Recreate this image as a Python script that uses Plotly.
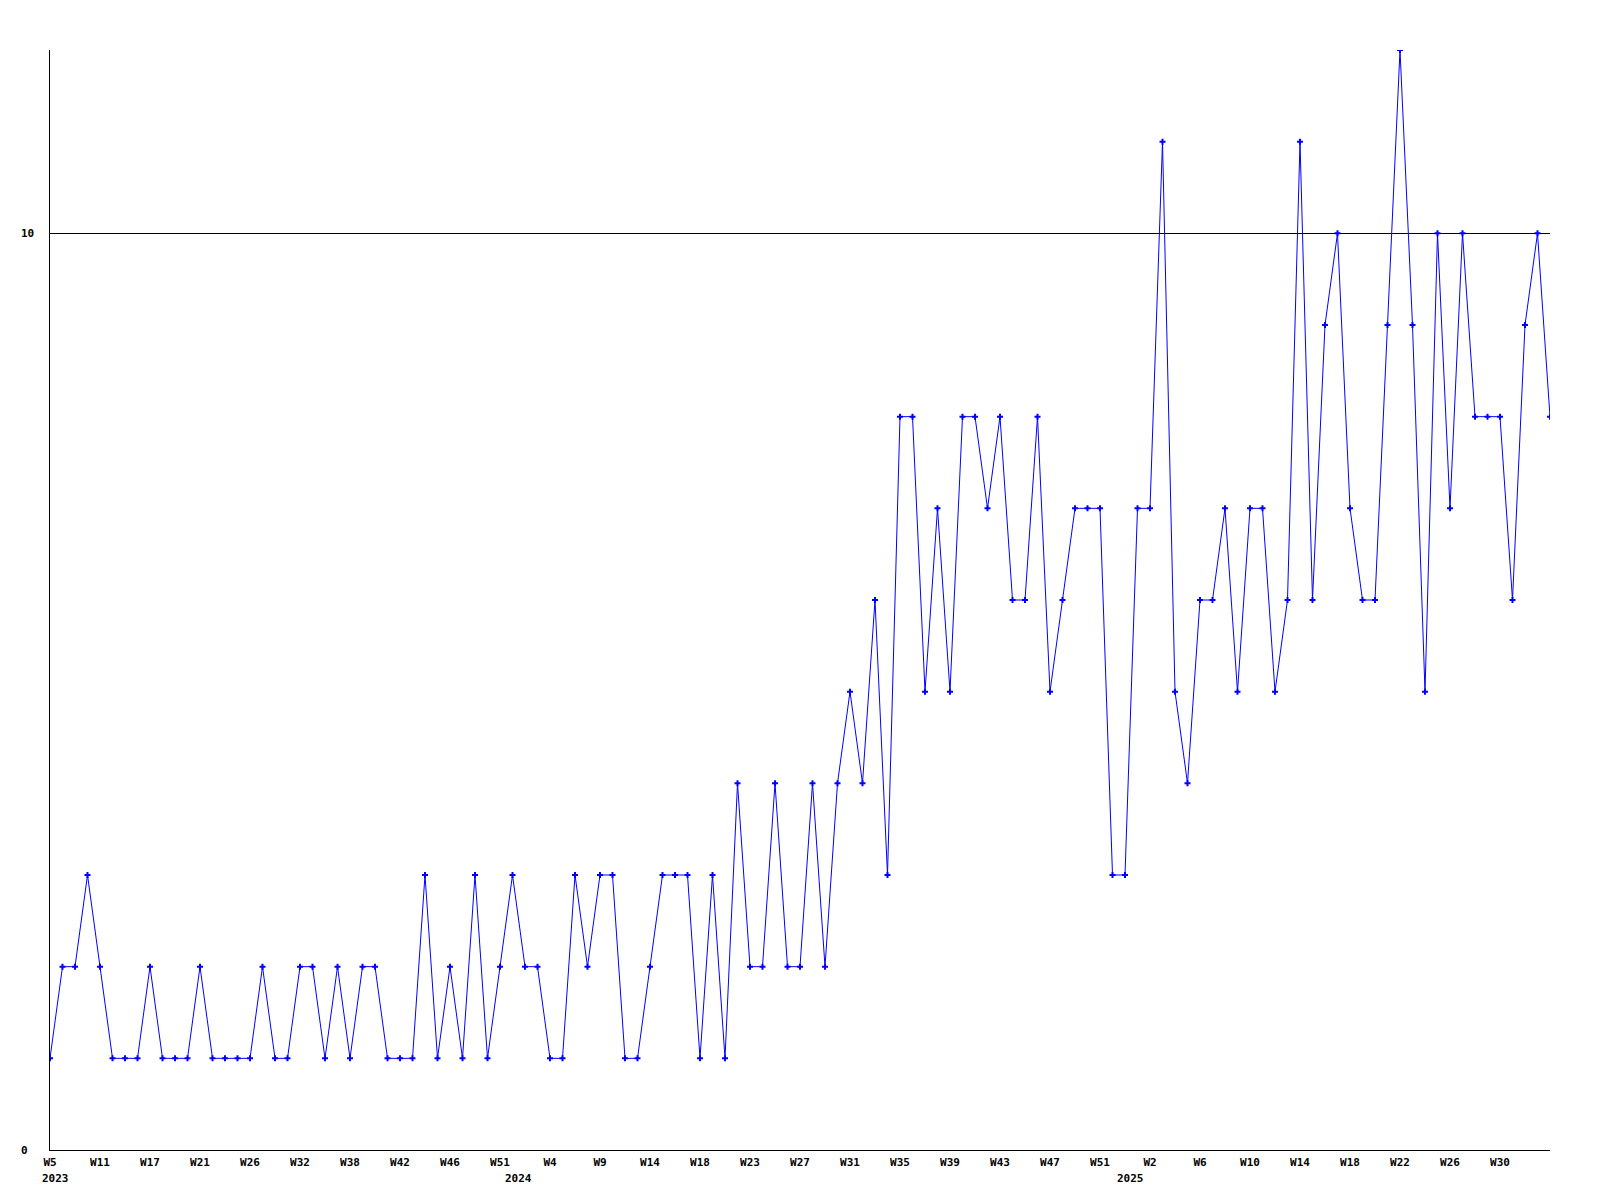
import plotly.graph_objects as go

values = [1, 2, 2, 3, 2, 1, 1, 1, 2, 1, 1, 1, 2, 1, 1, 1, 1, 2, 1, 1,
          2, 2, 1, 2, 1, 2, 2, 1, 1, 1, 3, 1, 2, 1, 3, 1, 2, 3, 2, 2,
          1, 1, 3, 2, 3, 3, 1, 1, 2, 3, 3, 3, 1, 3, 1, 4, 2, 2, 4, 2,
          2, 4, 2, 4, 5, 4, 6, 3, 8, 8, 5, 7, 5, 8, 8, 7, 8, 6, 6, 8,
          5, 6, 7, 7, 7, 3, 3, 7, 7, 11, 5, 4, 6, 6, 7, 5, 7, 7, 5, 6,
          11, 6, 9, 10, 7, 6, 6, 9, 12, 9, 5, 10, 7, 10, 8, 8, 8, 6, 9, 10, 8]
x_index = list(range(len(values)))

tick_index = list(range(0, 117, 4))
tick_labels = ["W5", "W11", "W17", "W21", "W26", "W32", "W38", "W42", "W46", "W51",
               "W4", "W9", "W14", "W18", "W23", "W27", "W31", "W35", "W39", "W43",
               "W47", "W51", "W2", "W6", "W10", "W14", "W18", "W22", "W26", "W30"]

year_labels = ["2023", "2024", "2025"]
year_index = [0, 37, 86]

y_ticks = [0, 10]
y_tick_labels = ["0", "10"]

FONT = "DejaVu Sans Mono"

fig = go.Figure()
fig.add_trace(go.Scatter(
    x=x_index, y=values, mode="lines+markers",
    line=dict(color="#0000ff", width=1),
    marker=dict(symbol="cross", size=5, color="#0000ff"),
    hoverinfo="x+y",
))

annotations = []
for lbl, idx in zip(year_labels, year_index):
    annotations.append(dict(
        x=idx, y=0, xref="x", yref="paper", text=lbl, showarrow=False,
        xanchor="left", yanchor="middle", xshift=-10, yshift=-28,
        font=dict(family=FONT, size=11, color="black", weight="bold"),
    ))
for lbl, val in zip(y_tick_labels, y_ticks):
    annotations.append(dict(
        x=0, y=val, xref="paper", yref="y", text=lbl, showarrow=False,
        xanchor="left", yanchor="middle", xshift=-31,
        font=dict(family=FONT, size=11, color="black", weight="bold"),
    ))

fig.update_layout(
    width=1600, height=1200,
    margin=dict(l=42, r=58, t=42, b=58),
    paper_bgcolor="white", plot_bgcolor="white",
    showlegend=False,
    annotations=annotations,
    xaxis=dict(
        range=[0, 120], tickmode="array", tickvals=tick_index, ticktext=tick_labels,
        showgrid=False, zeroline=False, showline=True, linecolor="black", linewidth=1,
        ticks="", ticklabelstandoff=2,
        tickfont=dict(family=FONT, size=11, color="black", weight="bold"),
    ),
    yaxis=dict(
        range=[0, 12], tickmode="array", tickvals=y_ticks,
        showticklabels=False, showgrid=True, gridcolor="black", gridwidth=1,
        zeroline=False, showline=True, linecolor="black", linewidth=1, ticks="",
    ),
)

fig.write_html("out.html")
